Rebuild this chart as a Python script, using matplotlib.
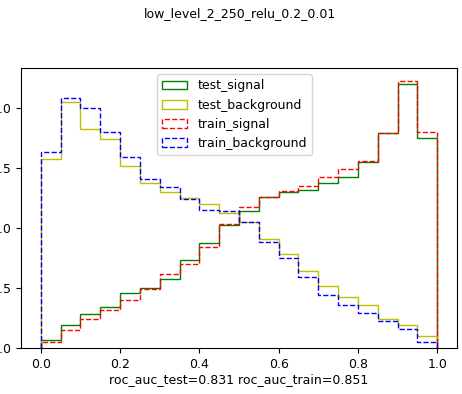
import numpy as np
import matplotlib
matplotlib.use("Agg")
import matplotlib.pyplot as plt

# 20 bins of width 0.05 on [0, 1], density values
bin_edges = np.linspace(0.0, 1.0, 21)

test_signal = [0.066, 0.191, 0.282, 0.343, 0.462, 0.500, 0.578, 0.730, 0.874, 1.026,
               1.145, 1.256, 1.297, 1.317, 1.372, 1.422, 1.552, 1.795, 2.202, 1.754]
test_background = [1.579, 2.053, 1.823, 1.745, 1.516, 1.372, 1.297, 1.250, 1.200, 1.130,
                   1.054, 0.910, 0.786, 0.642, 0.515, 0.426, 0.357, 0.246, 0.191, 0.100]
train_signal = [0.052, 0.149, 0.246, 0.315, 0.404, 0.495, 0.620, 0.703, 0.841, 1.035,
                1.173, 1.256, 1.311, 1.353, 1.422, 1.491, 1.560, 1.795, 2.224, 1.800]
train_background = [1.637, 2.086, 2.000, 1.803, 1.593, 1.408, 1.339, 1.242, 1.151, 1.140,
                    1.054, 0.882, 0.753, 0.592, 0.445, 0.362, 0.288, 0.224, 0.155, 0.052]

title = "low_level_2_250_relu_0.2_0.01"
xlabel = "roc_auc_test=0.831 roc_auc_train=0.851"

fig = plt.figure(figsize=(4.62, 3.94), dpi=100)
ax = fig.add_axes([21 / 462, 1 - 348 / 394, 436 / 462, 280 / 394])

centers = bin_edges[:-1] + 0.025
ax.hist(centers, bins=bin_edges, weights=test_signal, histtype="step",
        color="g", label="test_signal")
ax.hist(centers, bins=bin_edges, weights=test_background, histtype="step",
        color="y", label="test_background")
ax.hist(centers, bins=bin_edges, weights=train_signal, histtype="step",
        color="r", linestyle="--", label="train_signal")
ax.hist(centers, bins=bin_edges, weights=train_background, histtype="step",
        color="b", linestyle="--", label="train_background")

ax.set_xticks([0.0, 0.2, 0.4, 0.6, 0.8, 1.0])
ax.set_yticks([0.0, 0.5, 1.0, 1.5, 2.0])
ax.tick_params(labelsize=9)
ax.set_xlabel(xlabel, fontsize=9, labelpad=2)
ax.legend(loc="upper center", fontsize=9, bbox_to_anchor=(0.49, 1.0))

fig.text(0.52, 0.965, title, ha="center", va="center", fontsize=9)

plt.savefig("out.png", dpi=100)
plt.close()
